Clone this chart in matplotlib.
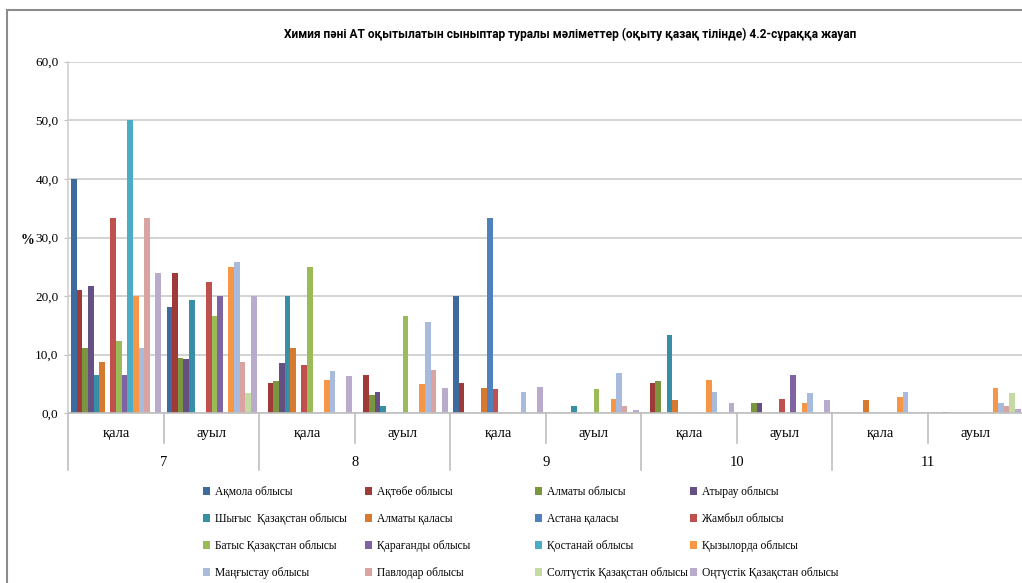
import numpy as np
import matplotlib.pyplot as plt
from matplotlib.patches import Patch, Rectangle

# groups: (grade, settlement)
grades = ["7", "8", "9", "10", "11"]
places = ["қала", "ауыл"]

regions = ["Ақмола облысы", "Ақтөбе облысы", "Алматы облысы", "Атырау облысы",
           "Шығыс  Қазақстан облысы", "Алматы қаласы", "Астана қаласы", "Жамбыл облысы",
           "Батыс Қазақстан облысы", "Қарағанды облысы", "Қостанай облысы", "Қызылорда облысы",
           "Маңғыстау облысы", "Павлодар облысы", "Солтүстік Қазақстан облысы", "Оңтүстік Қазақстан облысы"]

# values per region, groups: 7қ 7а 8қ 8а 9қ 9а 10қ 10а 11қ 11а
akmola      = [40.0, 18.1, 0,    0,    20.0, 0,   0,    0,   0,   0]
aktobe      = [21.0, 23.9, 5.1,  6.5,  5.1,  0,   5.1,  0,   0,   0]
almaty      = [11.1, 9.5,  5.5,  3.1,  0,    0,   5.5,  1.7, 0,   0.3]
atyrau      = [21.7, 9.2,  8.6,  3.7,  0,    0,   0,    1.8, 0,   0]
shygys      = [6.5,  19.4, 20.0, 1.2,  0,    1.2, 13.3, 0,   0,   0]
almaty_city = [8.8,  0,    11.1, 0,    4.4,  0,   2.2,  0,   2.2, 0]
astana      = [0,    0,    0,    0,    33.3, 0,   0,    0,   0,   0]
zhambyl     = [33.3, 22.4, 8.2,  0,    4.1,  0,   0,    2.4, 0,   0]
batys       = [12.4, 16.6, 25.0, 16.6, 0,    4.1, 0,    0,   0,   0]
karagandy   = [6.5,  20.0, 0,    0,    0,    0,   0,    6.5, 0,   0]
kostanay    = [50.0, 0,    0,    0,    0,    0,   0,    0,   0,   0]
kyzylorda   = [20.0, 25.0, 5.6,  5.0,  0,    2.5, 5.6,  1.8, 2.7, 4.4]
mangystau   = [11.1, 25.9, 7.3,  15.5, 3.6,  6.8, 3.6,  3.4, 3.6, 1.7]
pavlodar    = [33.3, 8.7,  0,    7.4,  0,    1.2, 0,    0,   0,   1.2]
soltustik   = [0,    3.4,  0,    0,    0,    0,   0,    0,   0,   3.4]
ontustik    = [23.9, 20.1, 6.3,  4.4,  4.5,  0.6, 1.8,  2.2, 0,   0.7]

series = [akmola, aktobe, almaty, atyrau, shygys, almaty_city, astana, zhambyl,
          batys, karagandy, kostanay, kyzylorda, mangystau, pavlodar, soltustik, ontustik]

colors = ["#3E6A9E", "#9E3B38", "#7A963F", "#664F82", "#378EA5", "#D7792E", "#4F81BD", "#C0504D",
          "#9BBB59", "#8064A2", "#4BACC6", "#F79646", "#A8BBDD", "#D9A3A2", "#C6DAA6", "#B8ABCB"]

W, H = 1022, 583
fig = plt.figure(figsize=(W / 100, H / 100), dpi=100)

# outer chart frame
fig.patches.append(Rectangle((7 / W, -0.05), 1.1, 1 - 10 / H + 0.05, transform=fig.transFigure,
                             fill=False, edgecolor="#8C8C8C", linewidth=1.5))

left, right, y0, y60 = 68.3, 1023.5, 413.3, 61.7
ax = fig.add_axes([left / W, 1 - y0 / H, (right - left) / W, (y0 - y60) / H])

n_groups = len(grades) * len(places)
n_ser = len(series)
bw = 1.0 / (n_ser + 1)
x = np.arange(n_groups)
for k, (vals, c) in enumerate(zip(series, colors)):
    ax.bar(x + (k + 1) * bw, vals, width=bw, color=c, linewidth=0, align="center")

serif = ["Liberation Serif", "DejaVu Serif"]
ax.set_xlim(0, n_groups)
ax.set_ylim(0, 60)
ax.set_yticks(np.arange(0, 61, 10))
ax.set_yticklabels([f"{v:.1f}".replace(".", ",") for v in np.arange(0, 61, 10)],
                   fontfamily=serif, fontsize=9.5)
ax.yaxis.grid(True, color="#D0D0D0", linewidth=1.3)
ax.set_axisbelow(True)
ax.tick_params(axis="y", length=3, color="#BFBFBF", pad=4)
ax.set_xticks([])
for s in ["top", "right"]:
    ax.spines[s].set_visible(False)
ax.spines["left"].set_color("#D0D0D0")
ax.spines["bottom"].set_color("#BFBFBF")
ax.spines["left"].set_linewidth(1.2)
ax.spines["bottom"].set_linewidth(1.2)

# two-level category axis
trans = ax.get_xaxis_transform()
hpx = y0 - y60
for g in range(n_groups + 1):
    major = g % 2 == 0
    depth = (470 - y0) if major else (443 - y0)
    ax.plot([g, g], [0, -depth / hpx], transform=trans, color="#BFBFBF", lw=1.2, clip_on=False)
for g in range(n_groups):
    ax.text(g + 0.5, -(434 - y0) / hpx, places[g % 2], transform=trans, ha="center", va="center",
            fontsize=10.5, family=serif)
for i, gr in enumerate(grades):
    ax.text(2 * i + 1, -(462 - y0) / hpx, gr, transform=trans, ha="center", va="center",
            fontsize=10.5, family=serif)

fig.text(27 / W, 1 - 240 / H, "%", ha="center", va="center", fontsize=10, fontweight="bold", family=serif)

fig.text(570 / W, 1 - 34 / H,
         "Химия пәні АТ оқытылатын сыныптар туралы мәліметтер (оқыту қазақ тілінде) 4.2-сұраққа жауап",
         ha="center", va="center", fontsize=8.6, fontweight="bold", family=["Roboto", "DejaVu Sans"])

# legend, four columns placed like the original
col_x = [203, 365, 535, 690]
for j in range(4):
    idx = [j, j + 4, j + 8, j + 12]
    handles = [Patch(facecolor=colors[i], edgecolor="none") for i in idx]
    fig.legend(handles, [regions[i] for i in idx], loc="upper left",
               bbox_to_anchor=(col_x[j] / W, 1 - 486 / H), frameon=False,
               prop={"family": serif, "size": 8.3}, handlelength=0.65, handleheight=0.65,
               handletextpad=0.35, labelspacing=1.3, borderpad=0, borderaxespad=0)

fig.savefig("out.png", dpi=100)
